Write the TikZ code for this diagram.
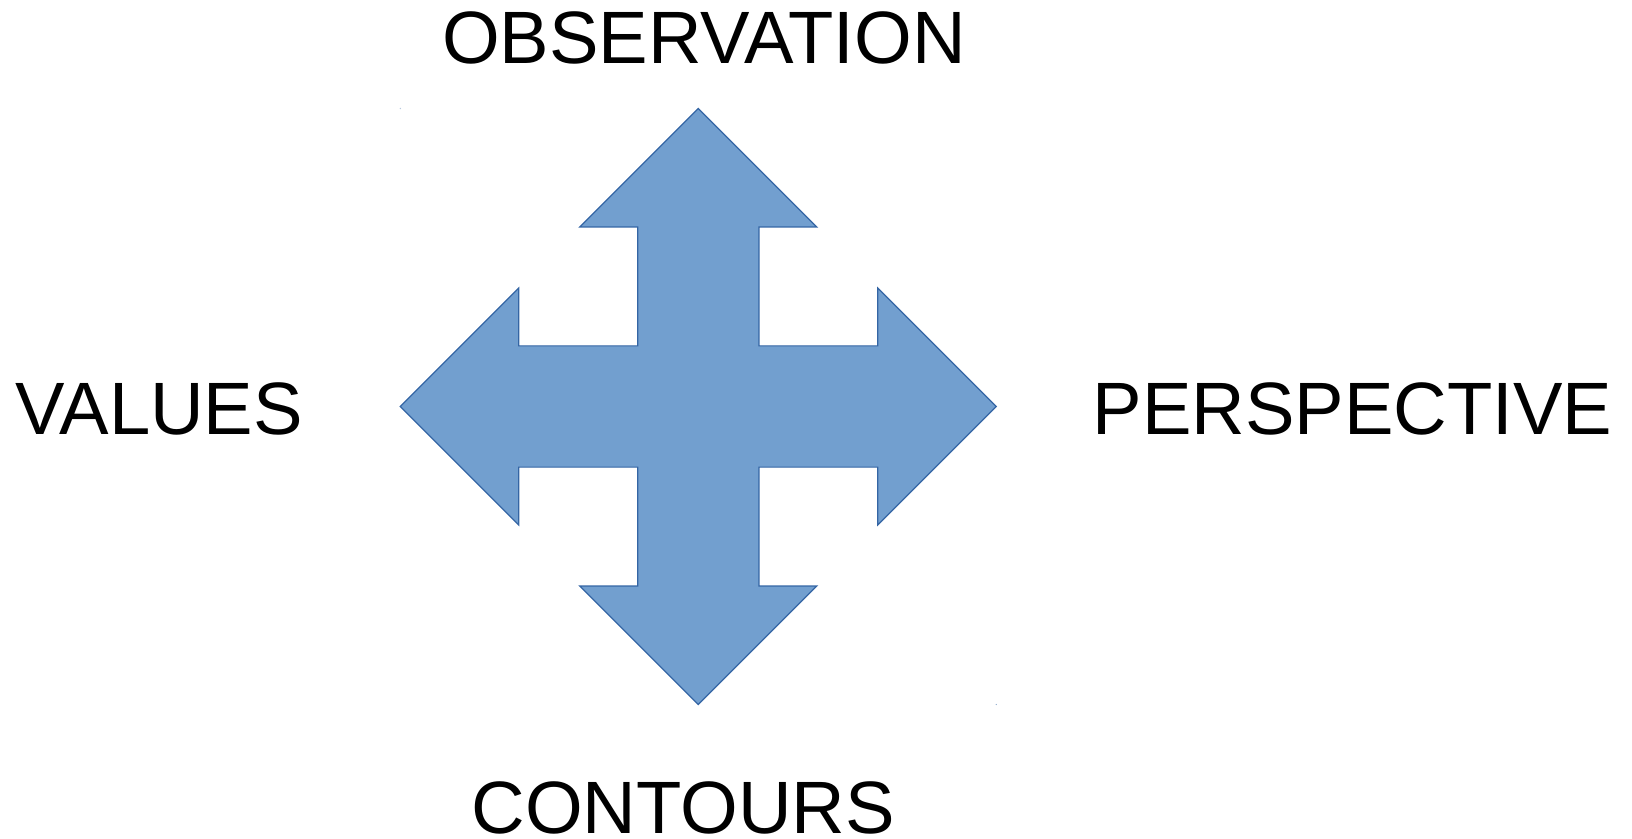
\documentclass[tikz,border=0pt]{standalone}
\usepackage{fontspec}
\setmainfont{Liberation Sans}
\usetikzlibrary{positioning}

\definecolor{crossfill}{RGB}{114,159,207}
\definecolor{crossline}{RGB}{52,101,164}

\tikzset{
	label text/.style={inner sep=0pt, anchor=base, font=\fontsize{37.1pt}{40pt}\selectfont},
	cross arm/.style={fill=crossfill, draw=crossline, line width=0.6pt, line join=miter}
}

\newcommand{\shaft}{60.6}
\newcommand{\headb}{118.5}
\newcommand{\headh}{179.5}
\newcommand{\tipd}{298}

\begin{document}
\begin{tikzpicture}[x=0.5pt, y=-0.5pt]
	\useasboundingbox (0,0) rectangle (1632,839);
	\coordinate (c) at (698.3,406.5);
	% four-way arrow
	\begin{scope}[shift={(c)}]
		\draw[cross arm] (0,-\tipd) -- (\headb,-\headh) -- (\shaft,-\headh) -- (\shaft,-\shaft)
			-- (\headh,-\shaft) -- (\headh,-\headb) -- (\tipd,0) -- (\headh,\headb) -- (\headh,\shaft)
			-- (\shaft,\shaft) -- (\shaft,\headh) -- (\headb,\headh) -- (0,\tipd) -- (-\headb,\headh)
			-- (-\shaft,\headh) -- (-\shaft,\shaft) -- (-\headh,\shaft) -- (-\headh,\headb) -- (-\tipd,0)
			-- (-\headh,-\headb) -- (-\headh,-\shaft) -- (-\shaft,-\shaft) -- (-\shaft,-\headh)
			-- (-\headb,-\headh) -- cycle;
		\fill[crossline!35] (-\tipd,-\tipd) circle (0.8);
		\fill[crossline!60] (\tipd,\tipd) circle (0.6);
	\end{scope}
	% labels
	\node[label text] (obs) at (704,63.5) {OBSERVATION};
	\node[label text] (val) at (159.2,434.5) {VALUES};
	\node[label text] (persp) at (1352.5,435) {PERSPECTIVE};
	\node[label text] (cont) at (683.3,833) {CONTOURS};
\end{tikzpicture}
\end{document}
